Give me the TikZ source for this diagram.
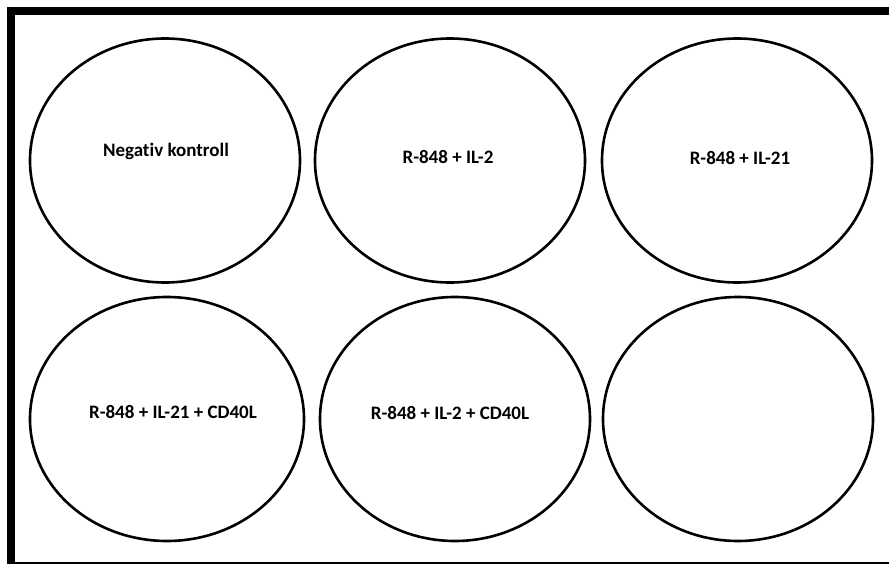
\documentclass[tikz,border=0pt]{standalone}
\usepackage{fontspec}
\setmainfont[Ligatures={NoCommon}]{Carlito}
\usepackage{tikz}
\usetikzlibrary{shapes.geometric}

\begin{document}
\begin{tikzpicture}[
  x=1pt, y=-1pt,
  well/.style={ellipse, draw=black, line width=2.6pt, minimum width=270pt,
               minimum height=244pt, inner sep=0pt},
  welltext/.style={font=\fontsize{19}{22}\selectfont\bfseries, inner sep=0pt},
]
\useasboundingbox (0,0) rectangle (889,564);
\clip (0,0) rectangle (889,564);

%% -- plate frame --------------------------------------------------------------
\draw[line width=8pt] (10.5,11) rectangle (894,566);

%% -- top row of wells ---------------------------------------------------------
\node[well] (wellA) at (165,160.5) {};
\node[well] (wellB) at (450,160.5) {};
\node[well] (wellC) at (737,160.5) {};

%% -- bottom row of wells ------------------------------------------------------
\node[well, minimum width=274pt] (wellD) at (167,419) {};
\node[well] (wellE) at (455,419) {};
\node[well] (wellF) at (738,419) {};

%% -- treatments ---------------------------------------------------------------
\node[welltext] (lblA) at (166,151) {Negativ kontroll};
\node[welltext] (lblB) at (448,157) {R-848 + IL-2};
\node[welltext] (lblC) at (740,158) {R-848 + IL-21};
\node[welltext] (lblD) at (173,412) {R-848 + IL-21 + CD40L};
\node[welltext] (lblE) at (450,413) {R-848 + IL-2 + CD40L};

\end{tikzpicture}
\end{document}
